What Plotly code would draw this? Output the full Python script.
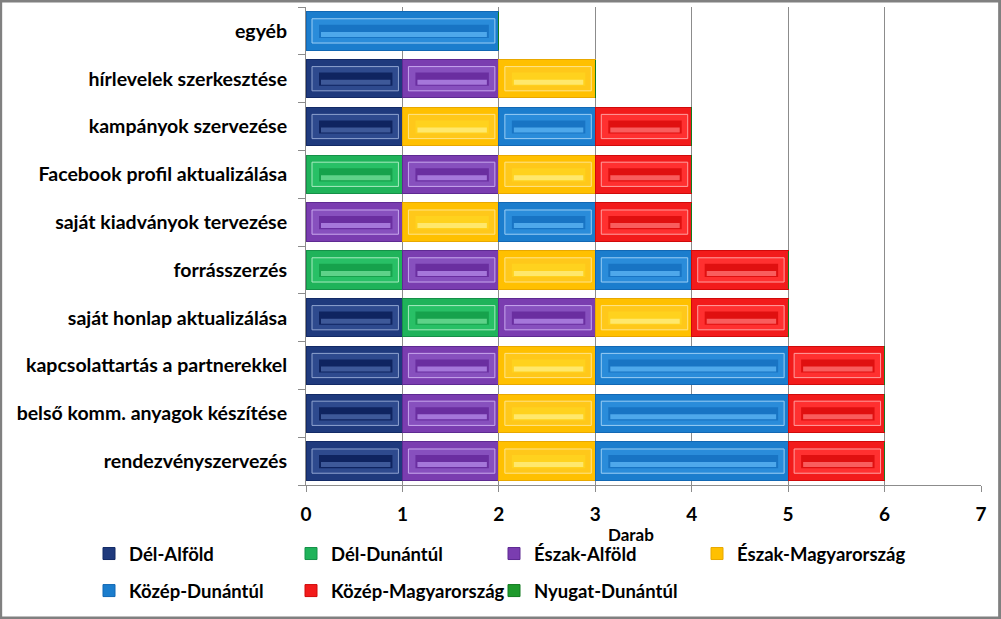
import plotly.graph_objects as go

categories = ["rendezvényszervezés", "belső komm. anyagok készítése",
              "kapcsolattartás a partnerekkel", "saját honlap aktualizálása",
              "forrásszerzés", "saját kiadványok tervezése",
              "Facebook profil aktualizálása", "kampányok szervezése",
              "hírlevelek szerkesztése", "egyéb"]

series_names = ["Dél-Alföld", "Dél-Dunántúl", "Észak-Alföld", "Észak-Magyarország",
                "Közép-Dunántúl", "Közép-Magyarország", "Nyugat-Dunántúl"]

del_alfold = [1, 1, 1, 1, 0, 0, 0, 1, 1, 0]
del_dunantul = [0, 0, 0, 1, 1, 0, 1, 0, 0, 0]
eszak_alfold = [1, 1, 1, 1, 1, 1, 1, 0, 1, 0]
eszak_magyarorszag = [1, 1, 1, 1, 1, 1, 1, 1, 1, 0]
kozep_dunantul = [2, 2, 2, 0, 1, 1, 0, 1, 0, 2]
kozep_magyarorszag = [1, 1, 1, 1, 1, 1, 1, 1, 0, 0]
nyugat_dunantul = [0, 0, 0, 0, 0, 0, 0, 0, 0, 0]

x_ticks = [0, 1, 2, 3, 4, 5, 6, 7]

values = [del_alfold, del_dunantul, eszak_alfold, eszak_magyarorszag,
          kozep_dunantul, kozep_magyarorszag, nyugat_dunantul]
base_col = ["#1F3A7D", "#1FB35A", "#7A3DB0", "#FFC000", "#1B7DCD", "#F21B1B", "#1E9A2C"]
edge_col = ["#132A66", "#159048", "#5E2A92", "#E8A800", "#1268B4", "#D00A0A", "#137A20"]
frame_col = ["#2E4A8E", "#28C066", "#8750BE", "#FFC81A", "#2A8CDA", "#FF3030", "#2AAA38"]
face_col = ["#0F2460", "#16A24C", "#6A2EA0", "#FFD21E", "#1874C4", "#E01010", "#16882A"]
stripe_col = ["#4A66A8", "#70DE99", "#B48AE8", "#FFEE80", "#5CB5F5", "#FF7070", "#70D080"]
line_col = ["#8FA3D0", "#A8EBC0", "#C8A8EE", "#FFE48A", "#9ACEF5", "#FFA0A0", "#A0E0A8"]

# legend column for each series (4 columns, filled row by row)
legend_of = ["legend", "legend2", "legend3", "legend4", "legend", "legend2", "legend3"]
legend_x_px = [89, 291, 494, 697]

plot_w, plot_h = 675, 478
xr = 7.0
px_x = xr / plot_w
px_y = len(categories) / plot_h
bargap = 0.2
half = (1 - bargap) / 2

fig = go.Figure()
for i, (name, vals) in enumerate(zip(series_names, values)):
    fig.add_trace(go.Bar(
        y=categories, x=vals, name=name, orientation="h",
        marker=dict(color=base_col[i], line=dict(color=edge_col[i], width=1)),
        legend=legend_of[i], legendgroup=name,
    ))

base = [0] * len(categories)
shapes = []
for i, vals in enumerate(values):
    for j, v in enumerate(vals):
        if v > 0:
            b0, b1 = base[j], base[j] + v
            shapes.append(dict(type="rect", xref="x", yref="y", layer="above",
                               x0=b0 + 6 * px_x, x1=b1 - 4 * px_x,
                               y0=j - half + 7 * px_y, y1=j + half - 7 * px_y,
                               line=dict(color=line_col[i], width=1), fillcolor=frame_col[i]))
            shapes.append(dict(type="rect", xref="x", yref="y", layer="above",
                               x0=b0 + 13 * px_x, x1=b1 - 10 * px_x,
                               y0=j - half + 12 * px_y, y1=j + half - 13 * px_y,
                               line=dict(width=0), fillcolor=face_col[i]))
            shapes.append(dict(type="rect", xref="x", yref="y", layer="above",
                               x0=b0 + 15 * px_x, x1=b1 - 12 * px_x,
                               y0=j - 6 * px_y, y1=j - 1 * px_y,
                               line=dict(width=0), fillcolor=stripe_col[i], opacity=0.8))
        base[j] += v

font_fam = "Lato, 'Open Sans', sans-serif"
legend_common = dict(orientation="v", xref="container", yref="container",
                     xanchor="left", yanchor="top", itemwidth=30, tracegroupgap=10,
                     traceorder="grouped", bgcolor="rgba(0,0,0,0)",
                     font=dict(size=18.5, family=font_fam, weight="bold", color="black"))
legends = {}
for k, name in enumerate(["legend", "legend2", "legend3", "legend4"]):
    legends[name] = dict(x=legend_x_px[k] / 1001, y=1 - 535 / 619, **legend_common)

fig.update_layout(
    barmode="stack",
    bargap=bargap,
    width=1001, height=619,
    margin=dict(l=306, r=20, t=7, b=134, autoexpand=False),
    paper_bgcolor="white", plot_bgcolor="white",
    font=dict(family=font_fam, color="black"),
    shapes=shapes,
    showlegend=True,
    xaxis=dict(range=[0, xr], tickvals=x_ticks, showgrid=True, gridcolor="#8C8C8C", gridwidth=1,
               showline=True, linecolor="#8C8C8C", ticks="outside", ticklen=6, tickcolor="#8C8C8C",
               ticklabelstandoff=6,
               tickfont=dict(size=19, family=font_fam, weight="bold", color="black"), zeroline=False),
    yaxis=dict(categoryorder="array", categoryarray=categories, showline=True, linecolor="#8C8C8C",
               ticks="outside", ticklen=7, tickcolor="#8C8C8C", tickson="boundaries",
               ticklabelstandoff=14,
               tickfont=dict(size=19.5, family=font_fam, weight="bold", color="black"), showgrid=False),
    annotations=[dict(text="<span style='font-size:17px'><b>Darab</b></span>",
                      xref="paper", yref="paper", x=(631 - 306) / 675,
                      y=0, yshift=-37, showarrow=False, xanchor="center", yanchor="top",
                      font=dict(size=17, family=font_fam, color="black"))],
    **legends,
)
fig.add_shape(type="rect", xref="paper", yref="paper", x0=-306 / 675 + 0.001, x1=1 + 20 / 675 - 0.002,
              y0=-134 / 478 + 0.002, y1=1 + 7 / 478 - 0.002, line=dict(color="#808080", width=3),
              layer="below")
fig.write_html("out.html")
